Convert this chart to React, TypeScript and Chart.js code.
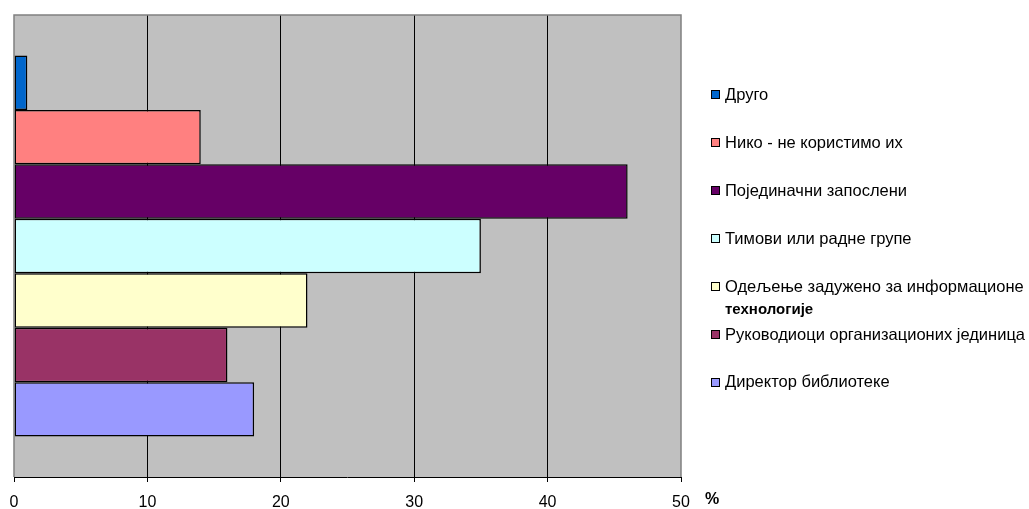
import React, { useEffect, useRef } from "react";
import { Chart, registerables } from "chart.js";

Chart.register(...registerables);

const categories = [""];
const seriesNames = [
  "Друго",
  "Нико - не користимо их",
  "Појединачни запослени",
  "Тимови или радне групе",
  "Одељење задужено за информационе\nтехнологије",
  "Руководиоци организационих јединица",
  "Директор библиотеке",
];
const seriesValues = [1, 14, 46, 35, 22, 16, 18];
const seriesColors = ["#0066CC", "#FF8080", "#660066", "#CCFFFF", "#FFFFCC", "#993366", "#9999FF"];
const xTicks = [0, 10, 20, 30, 40, 50];
const axisUnit = "%";

const FONT = "'Liberation Sans', Arial, sans-serif";

const plotDecor = {
  id: "plotDecor",
  beforeDraw(chart: any) {
    const { ctx, chartArea: a } = chart;
    ctx.save();
    ctx.fillStyle = "#C0C0C0";
    ctx.fillRect(a.left, a.top, a.right - a.left, a.bottom - a.top);
    ctx.restore();
  },
  afterDraw(chart: any) {
    const { ctx, chartArea: a } = chart;
    ctx.save();
    ctx.strokeStyle = "#808080";
    ctx.lineWidth = 1.5;
    ctx.beginPath();
    ctx.moveTo(a.left, a.bottom);
    ctx.lineTo(a.left, a.top);
    ctx.lineTo(a.right, a.top);
    ctx.lineTo(a.right, a.bottom);
    ctx.stroke();
    ctx.strokeStyle = "#000";
    ctx.lineWidth = 1;
    ctx.beginPath();
    ctx.moveTo(a.left, a.bottom + 0.5);
    ctx.lineTo(a.right, a.bottom + 0.5);
    ctx.stroke();
    ctx.fillStyle = "#000";
    ctx.font = `bold 16px ${FONT}`;
    ctx.textBaseline = "middle";
    ctx.fillText(axisUnit, 705, 500);
    ctx.restore();
  },
};

export default function App() {
  const ref = useRef<HTMLCanvasElement>(null);
  useEffect(() => {
    if (!ref.current) return;
    const chart = new Chart(ref.current, {
      type: "bar",
      data: {
        labels: categories,
        datasets: seriesNames.map((name, i) => ({
          label: name,
          data: [seriesValues[i]],
          backgroundColor: seriesColors[i],
          borderColor: "#000",
          borderWidth: 1.5,
          borderSkipped: false,
          barPercentage: 1,
          categoryPercentage: 0.825,
        })),
      },
      options: {
        indexAxis: "y",
        animation: false,
        responsive: false,
        maintainAspectRatio: false,
        layout: { padding: { left: 14, right: 348, top: 15, bottom: 0 } },
        plugins: { legend: { display: false }, tooltip: { enabled: false } },
        scales: {
          y: { display: false },
          x: {
            min: 0,
            max: 50,
            afterBuildTicks: (s: any) => {
              s.ticks = xTicks.map((v) => ({ value: v }));
            },
            afterFit: (s: any) => {
              s.height = 32;
              s.paddingLeft = 0;
              s.paddingRight = 0;
            },
            grid: {
              color: (c: any) => (c.tick && (c.tick.value === 0 || c.tick.value === 50) ? "rgba(0,0,0,0)" : "#000"),
              tickColor: "#000",
              tickLength: 5,
              lineWidth: 1,
            },
            border: { display: false },
            ticks: {
              color: "#000",
              font: { family: FONT, size: 16 },
              padding: 11,
              maxRotation: 0,
            },
          },
        },
      },
      plugins: [plotDecor],
    });
    return () => chart.destroy();
  }, []);

  return (
    <div style={{ position: "fixed", left: 0, top: 0, width: 1029, height: 509, background: "#fff" }}>
      <canvas ref={ref} width={1029} height={509} style={{ position: "absolute", left: 0, top: 0 }} />
      {seriesNames.map((name, i) => (
        <div
          key={i}
          style={{
            position: "absolute",
            left: 711,
            top: 93 + i * 47.9 - 8,
            fontFamily: FONT,
            fontSize: 16.5,
            color: "#000",
            whiteSpace: "nowrap",
          }}
        >
          <span
            style={{
              display: "inline-block",
              width: 7,
              height: 7,
              background: seriesColors[i],
              border: "1px solid #000",
              marginRight: 5,
              verticalAlign: "middle",
              position: "relative",
              top: -1,
            }}
          />
          {name.split("\n").map((line, j) => (
            <div
              key={j}
              style={
                j === 0
                  ? { display: "inline", lineHeight: "18px" }
                  : { fontWeight: "bold", fontSize: 15, paddingLeft: 14, lineHeight: "26px" }
              }
            >
              {line}
            </div>
          ))}
        </div>
      ))}
    </div>
  );
}
